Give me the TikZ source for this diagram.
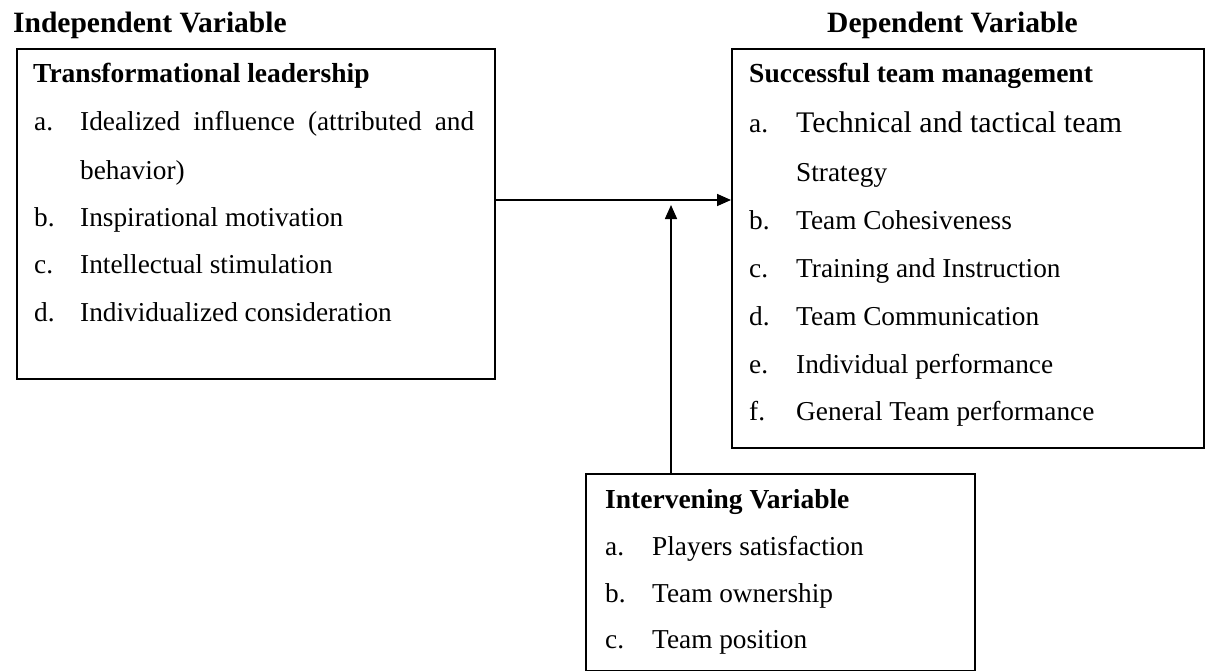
\documentclass[tikz,border=0pt]{standalone}
\usepackage{fontspec}
\setmainfont{Liberation Serif}
\usetikzlibrary{arrows.meta}
\begin{document}
\begin{tikzpicture}[x=1pt,y=-1pt,
  box/.style={draw=black, line width=1.6pt, inner sep=0pt, anchor=north west},
  head/.style={anchor=base west, inner sep=0pt, font=\fontsize{29.5}{32}\selectfont\bfseries},
  title/.style={anchor=base west, inner sep=0pt, font=\fontsize{27.5}{30}\selectfont\bfseries},
  item/.style={anchor=base west, inner sep=0pt, font=\fontsize{27.3}{30}\selectfont},
  bigitem/.style={anchor=base west, inner sep=0pt, font=\fontsize{29.9}{32}\selectfont},
  link/.style={line width=1.6pt, -{Triangle[length=14pt,width=12pt]}}]
\useasboundingbox (0,0) rectangle (1206,671);

% column headings
\node[head] (indep) at (13,33) {Independent Variable};
\node[head] (dep) at (827,33) {Dependent Variable};

% the three boxes
\node[box, minimum width=478pt, minimum height=330pt] (lbox) at (16,48) {};
\node[box, minimum width=472pt, minimum height=399pt] (rbox) at (731,48) {};
\node[box, minimum width=389pt, minimum height=197pt] (ibox) at (585,473) {};

% independent variable contents
\node[title] (ltitle) at (33,83) {Transformational leadership};
\node[item] (la) at (34,130.5) {a.};
\node[item] (lat) at (80,130.5) {\makebox[394pt][s]{Idealized influence (attributed and}};
\node[item] (lat2) at (80,179) {behavior)};
\node[item] (lb) at (34,226) {b.};
\node[item] (lbt) at (80,226) {Inspirational motivation};
\node[item] (lc) at (34,273) {c.};
\node[item] (lct) at (80,273) {Intellectual stimulation};
\node[item] (ld) at (34,321) {d.};
\node[item] (ldt) at (80,321) {Individualized consideration};

% dependent variable contents
\node[title] (rtitle) at (749,83) {Successful team management};
\node[item] (ra) at (749,133) {a.};
\node[bigitem] (rat) at (796,133) {Technical and tactical team};
\node[item] (rat2) at (796,182) {Strategy};
\node[item] (rb) at (749,229) {b.};
\node[item] (rbt) at (796,229) {Team Cohesiveness};
\node[item] (rc) at (749,277) {c.};
\node[item] (rct) at (796,277) {Training and Instruction};
\node[item] (rd) at (749,325) {d.};
\node[item] (rdt) at (796,325) {Team Communication};
\node[item] (re) at (749,373.5) {e.};
\node[item] (ret) at (796,373.5) {Individual performance};
\node[item] (rf) at (749,420.5) {f.};
\node[item] (rft) at (796,420.5) {General Team performance};

% intervening variable contents
\node[title] (ititle) at (605,508) {Intervening Variable};
\node[item] (ia) at (605,555) {a.};
\node[item] (iat) at (652,555) {Players satisfaction};
\node[item] (ib) at (605,602) {b.};
\node[item] (ibt) at (652,602) {Team ownership};
\node[item] (ic) at (605,648) {c.};
\node[item] (ict) at (652,648) {Team position};

% connectors
\coordinate (hlevel) at (0,200);
\coordinate (vtip) at (671,205);
\draw[link] (lbox.east |- hlevel) -- (rbox.west |- hlevel);
\draw[link] (ibox.north -| vtip) -- (vtip);
\end{tikzpicture}
\end{document}
